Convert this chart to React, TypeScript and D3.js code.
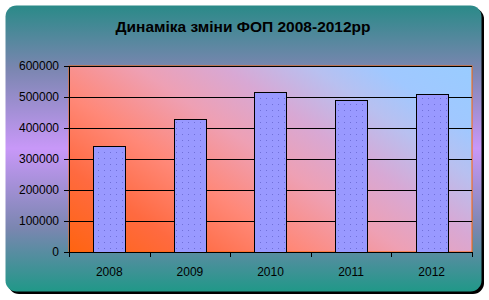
import React from "react";
import * as d3 from "d3";

const categories = ["2008", "2009", "2010", "2011", "2012"];
const values = [342000, 429000, 516000, 490000, 510000];
const yTicks = [0, 100000, 200000, 300000, 400000, 500000, 600000];
const title = "Динаміка зміни ФОП 2008-2012рр";

export default function App() {
  const W = 489, H = 300;
  const plot = { left: 69, right: 472, top: 66, bottom: 252 };
  const x = d3.scaleBand().domain(categories).range([plot.left, plot.right]).paddingInner(0.6).paddingOuter(0.3);
  const band = d3.scaleBand().domain(categories).range([plot.left, plot.right]);
  const y = d3.scaleLinear().domain([0, 600000]).range([plot.bottom, plot.top]);
  const font = "'Liberation Sans', Arial, sans-serif";
  const boundaries = categories.map((c) => band(c)!).concat([plot.right]);

  return (
    <svg width={W} height={H} style={{ position: "absolute", left: 0, top: 0 }}>
      <defs>
        <linearGradient id="bg" x1="0" y1="0" x2="0" y2="1">
          <stop offset="0" stopColor="#2a8a88" />
          <stop offset="0.22" stopColor="#7a86b0" />
          <stop offset="0.5" stopColor="#c898f8" />
          <stop offset="0.78" stopColor="#7a86b0" />
          <stop offset="1" stopColor="#209888" />
        </linearGradient>
        <linearGradient id="pg" gradientUnits="userSpaceOnUse" x1="162" y1="316" x2="378" y2="2">
          <stop offset="0" stopColor="#ff6410" />
          <stop offset="0.18" stopColor="#ff6a40" />
          <stop offset="0.34" stopColor="#ff8878" />
          <stop offset="0.5" stopColor="#eea0b4" />
          <stop offset="0.63" stopColor="#d8a8d4" />
          <stop offset="0.76" stopColor="#b8c0f0" />
          <stop offset="0.86" stopColor="#a0c8ff" />
          <stop offset="1" stopColor="#99ccff" />
        </linearGradient>
        <pattern id="dots" width="6" height="6" patternUnits="userSpaceOnUse">
          <rect width="6" height="6" fill="#9999ff" />
          <rect x="2" y="2" width="1" height="1" fill="#7070d8" />
        </pattern>
      </defs>
      <rect x={8} y={8} width={476} height={286} rx={11} fill="#000" />
      <rect x={5.5} y={5.5} width={476} height={286} rx={11} fill="url(#bg)" />
      <text x={243} y={32} textAnchor="middle" fontFamily={font} fontWeight="bold" fontSize={15.5} fill="#000">
        {title}
      </text>
      <rect x={plot.left} y={plot.top} width={plot.right - plot.left} height={plot.bottom - plot.top} fill="url(#pg)" stroke="#ff6600" strokeWidth={1} />
      {yTicks.slice(1).map((t) => (
        <line key={t} x1={plot.left} x2={plot.right} y1={Math.round(y(t)) + 0.5} y2={Math.round(y(t)) + 0.5} stroke="#000" strokeWidth={1} />
      ))}
      {categories.map((c, i) => (
        <rect key={c} x={Math.round(x(c)!) + 0.5} y={Math.round(y(values[i])) + 0.5} width={Math.round(x.bandwidth())} height={Math.round(y(0)) - Math.round(y(values[i]))} fill="url(#dots)" stroke="#000" strokeWidth={1} />
      ))}
      <line x1={plot.left + 0.5} x2={plot.left + 0.5} y1={plot.top} y2={plot.bottom} stroke="#000" />
      <line x1={plot.left} x2={plot.right} y1={plot.bottom + 0.5} y2={plot.bottom + 0.5} stroke="#000" />
      {yTicks.map((t) => (
        <g key={t}>
          <line x1={plot.left - 5} x2={plot.left} y1={Math.round(y(t)) + 0.5} y2={Math.round(y(t)) + 0.5} stroke="#000" />
          <text x={59} y={y(t) + 4} textAnchor="end" fontFamily={font} fontSize={12} fill="#000">
            {t}
          </text>
        </g>
      ))}
      {boundaries.map((b, i) => (
        <line key={i} x1={Math.round(b) + 0.5} x2={Math.round(b) + 0.5} y1={plot.bottom} y2={plot.bottom + 5} stroke="#000" />
      ))}
      {categories.map((c) => (
        <text key={c} x={band(c)! + band.bandwidth() / 2} y={276} textAnchor="middle" fontFamily={font} fontSize={12} fill="#000">
          {c}
        </text>
      ))}
    </svg>
  );
}
